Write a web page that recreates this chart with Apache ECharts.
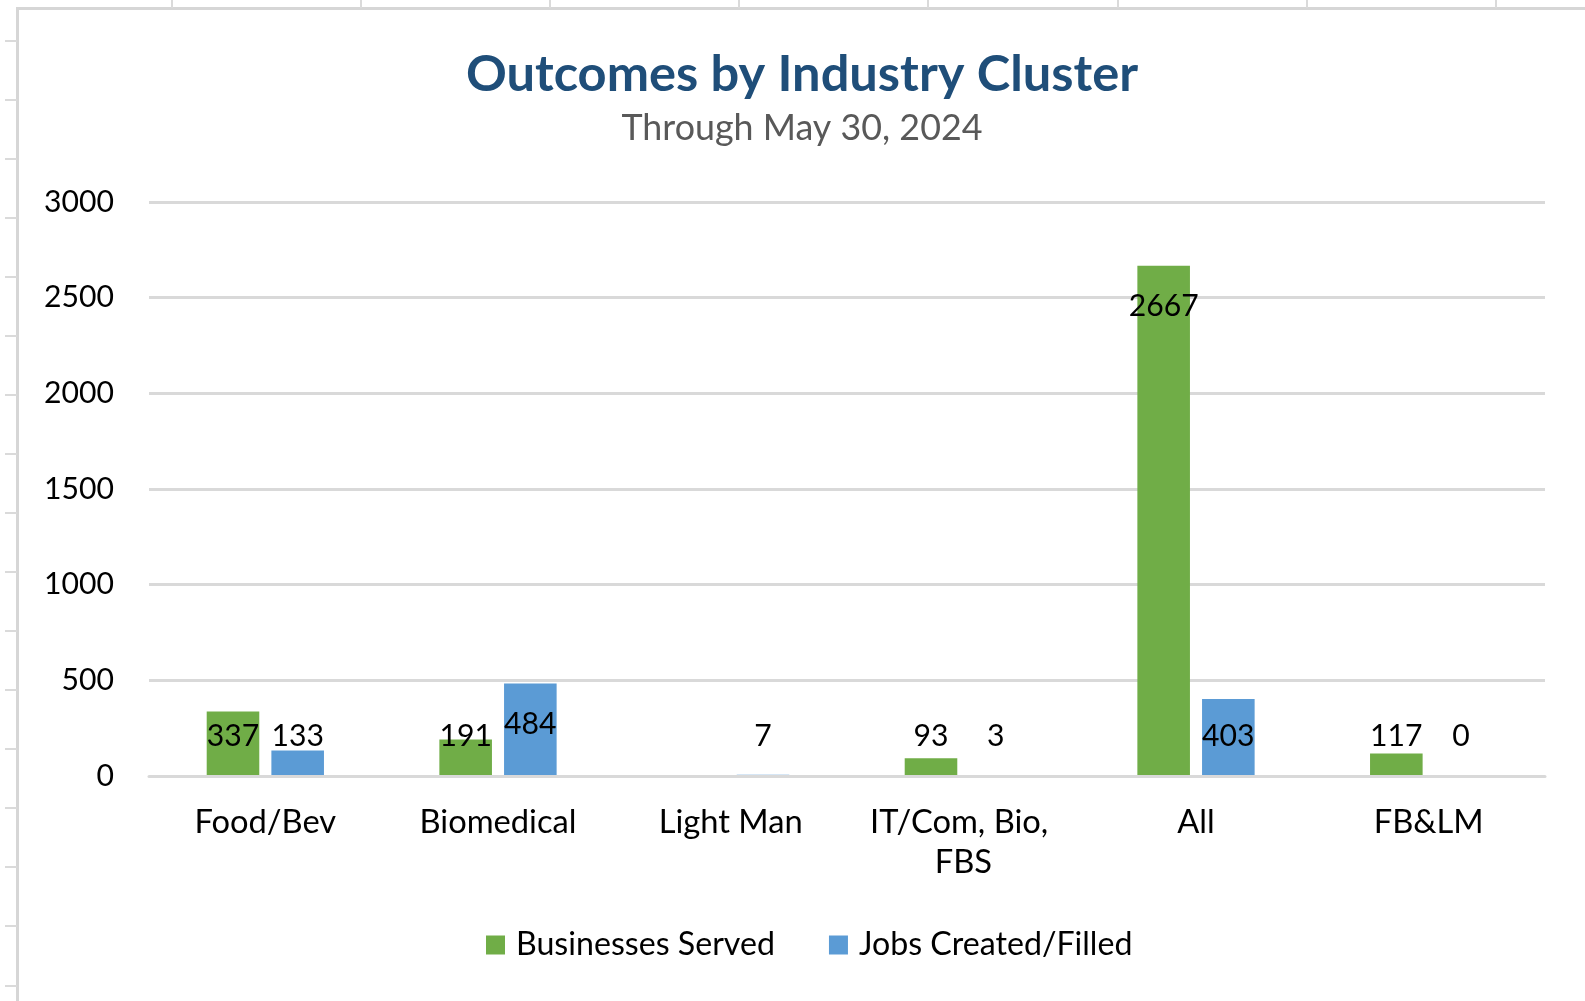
<!DOCTYPE html>
<html>
<head>
<meta charset="utf-8">
<script src="https://cdn.jsdelivr.net/npm/echarts/dist/echarts.min.js"></script>
<style>
  html, body { margin: 0; padding: 0; background: #fff; }
  body { width: 1585px; height: 1001px; overflow: hidden; position: relative; }
  .deco { position: absolute; background: #DADADA; }
  #frame { position: absolute; left: 16px; top: 7px; width: 1569px; height: 994px;
           border-left: 3px solid #D6D6D6; border-top: 3px solid #D6D6D6; box-sizing: border-box; background: #fff; }
  #chart { position: absolute; left: 19px; top: 10px; width: 1566px; height: 991px; }
</style>
</head>
<body>
<div id="frame"></div>
<div id="chart"></div>
<script>
// ---- data ----
const categories = ['Food/Bev', 'Biomedical', 'Light Man', 'IT/Com, Bio, FBS', 'All', 'FB&LM'];
const businessesServed = [337, 191, null, 93, 2667, 117];
const jobsCreated = [133, 484, 7, 3, 403, 0];
const seriesNames = ['Businesses Served', 'Jobs Created/Filled'];
const yMin = 0, yMax = 3000, yInterval = 500;
const titleText = 'Outcomes by Industry Cluster';
const subtitleText = 'Through May 30, 2024';

// ---- spreadsheet decoration around the chart ----
(function () {
  for (let k = 0; k < 8; k++) {
    const d = document.createElement('div');
    d.className = 'deco';
    d.style.left = (171 + 189.1 * k).toFixed(1) + 'px';
    d.style.top = '0px'; d.style.width = '2px'; d.style.height = '8px';
    document.body.appendChild(d);
  }
  for (let k = 0; k < 17; k++) {
    const d = document.createElement('div');
    d.className = 'deco';
    d.style.left = '5px'; d.style.width = '12px';
    d.style.top = (39.5 + 59.06 * k).toFixed(1) + 'px'; d.style.height = '2px';
    document.body.appendChild(d);
  }
})();

// ---- font fitting ----
const FAMILY = 'Lato';
const mctx = document.createElement('canvas').getContext('2d');
function fit(text, target, weight) {
  mctx.font = (weight || 'normal') + ' 100px ' + FAMILY;
  return +(100 * target / mctx.measureText(text).width).toFixed(2);
}
const titleFS = fit(titleText, 672, 'bold');
const subFS = fit(subtitleText, 361);
const axisFS = fit('3000', 70);
const catFS = fit('Biomedical', 157);
const legFS = fit('Businesses Served', 259);
const lblFS = fit('2667', 70);

const colors = ['#70AD47', '#5B9BD5'];
const LH = Math.round(lblFS);

function withLabels(arr) {
  return arr.map(v => {
    if (v === null) return null;
    const top = v >= 410;
    return {
      value: v,
      label: {
        position: top ? 'insideTop' : 'insideBottom',
        distance: top ? (41 - LH / 2) : (40 - LH / 2)
      }
    };
  });
}

const chart = echarts.init(document.getElementById('chart'), null, { renderer: 'canvas' });
const labelCommon = {
  show: true, color: '#000', fontFamily: FAMILY, fontSize: lblFS, lineHeight: LH
};
chart.setOption({
  animation: false,
  color: colors,
  textStyle: { fontFamily: FAMILY },
  title: [
    { text: titleText, left: 'center', top: 65 - titleFS / 2, padding: 0,
      textStyle: { fontFamily: FAMILY, fontWeight: 'bold', fontSize: titleFS, lineHeight: titleFS, color: '#1F4E79' } },
    { text: subtitleText, left: 'center', top: 118 - subFS / 2, padding: 0,
      textStyle: { fontFamily: FAMILY, fontWeight: 'normal', fontSize: subFS, lineHeight: subFS, color: '#595959' } }
  ],
  legend: {
    data: seriesNames,
    left: 467, top: 931 - 12, padding: 0,
    icon: 'rect', itemWidth: 19, itemHeight: 19, itemGap: 54,
    textStyle: { fontFamily: FAMILY, fontSize: legFS, color: '#000', lineHeight: 24, padding: [0, 0, 0, 6] }
  },
  grid: { left: 130, right: 40, top: 192, bottom: 225, containLabel: false, outerBoundsMode: 'none' },
  xAxis: {
    type: 'category', data: categories, z: 5,
    axisLine: { show: true, lineStyle: { color: '#D9D9D9', width: 3 } },
    axisTick: { show: false },
    axisLabel: {
      color: '#000', fontFamily: FAMILY, fontSize: catFS, lineHeight: 40, margin: 26,
      width: 205, overflow: 'break', interval: 0
    },
    splitLine: { show: false }
  },
  yAxis: {
    type: 'value', min: yMin, max: yMax, interval: yInterval,
    axisLine: { show: false }, axisTick: { show: false },
    axisLabel: { color: '#000', fontFamily: FAMILY, fontSize: axisFS, margin: 35,
                 formatter: v => String(v) },
    splitLine: { show: true, lineStyle: { color: '#D9D9D9', width: 3 } }
  },
  series: [
    { name: seriesNames[0], type: 'bar', data: withLabels(businessesServed),
      barWidth: '22.6%', barGap: '23%', itemStyle: { color: colors[0] }, label: labelCommon },
    { name: seriesNames[1], type: 'bar', data: withLabels(jobsCreated),
      barWidth: '22.6%', barGap: '23%', itemStyle: { color: colors[1] }, label: labelCommon }
  ]
});
</script>
</body>
</html>
